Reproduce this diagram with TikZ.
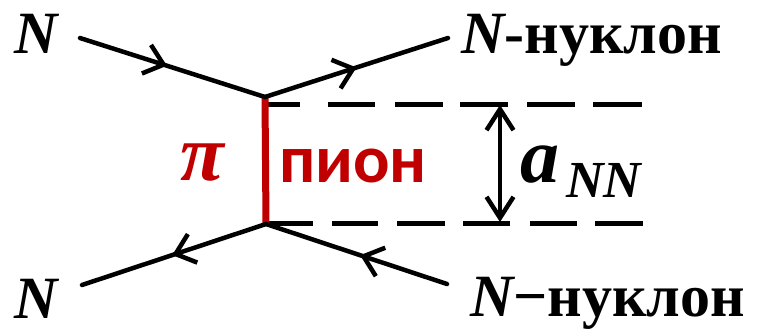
\documentclass[tikz,border=0pt]{standalone}
\usepackage{fontspec}
\newfontfamily\lserif{Liberation Serif}
\newfontfamily\calib{Carlito}
\usetikzlibrary{arrows.meta,decorations.markings}
\definecolor{pired}{HTML}{C00000}
\tikzset{
  fermion/.style={line width=4.5pt, line cap=round,
    postaction={decorate, decoration={markings,
      mark=at position #1 with {\arrow{Straight Barb[length=18pt,width=30pt,line width=4.5pt]}}}}},
  dashline/.style={line width=5pt},
  lbl/.style={inner sep=0pt, anchor=base west, font=\fontsize{60}{60}\selectfont\lserif\bfseries},
}
\begin{document}
\begin{tikzpicture}[x=1pt,y=-1pt]
\useasboundingbox (0,0) rectangle (767,333);
% coordinates
\coordinate (vt) at (265,97);
\coordinate (vb) at (266,224);
\coordinate (tl) at (80,38);
\coordinate (tr) at (448,38);
\coordinate (bl) at (82,285);
\coordinate (br) at (447,284);
% dashed lines
\coordinate (dt1) at (263,104);
\coordinate (dt2) at (642,104);
\coordinate (db1) at (266,223);
\coordinate (db2) at (643,223);
\draw[dashline, dash pattern=on 37pt off 28pt on 47pt off 20pt on 48pt off 17pt on 48pt off 19pt on 48pt off 18pt on 49pt off 30pt] (dt1) -- (dt2);
\draw[dashline, dash pattern=on 47pt off 19pt on 46pt off 19pt on 48pt off 18pt on 47pt off 20pt on 47pt off 18pt on 48pt off 30pt] (db1) -- (db2);
% red pion line
\draw[pired, line width=7pt] (vt) -- (vb);
% fermion lines
\draw[fermion=0.47] (tl) -- (vt);
\draw[fermion=0.50] (vt) -- (tr);
\draw[fermion=0.51] (vb) -- (bl);
\draw[fermion=0.48] (br) -- (vb);
% distance arrow
\coordinate (at) at (500,105);
\coordinate (ab) at (500,222);
\draw[line width=4pt, {Straight Barb[length=21pt,width=27pt,line width=4.5pt]}-{Straight Barb[length=21pt,width=27pt,line width=4.5pt]}] (at) -- (ab);
% labels
\node[lbl] (n1) at (14,53) {\itshape N};
\node[lbl] (n2) at (14,318) {\itshape N};
\node[lbl] (n3) at (461,53) {{\itshape N}-нуклон};
\node[lbl] (n4) at (470,316) {{\itshape N}−нуклон};
\node[inner sep=0pt, anchor=base west, text=pired, font=\fontsize{80}{80}\selectfont\lserif\bfseries\itshape] (pi) at (180,180) {π};
\node[inner sep=0pt, anchor=base west, text=pired, font=\fontsize{68}{68}\selectfont\calib\bfseries] (pion) at (279,182) {пион};
\node[inner sep=0pt, anchor=base west, font=\fontsize{78}{78}\selectfont\lserif\bfseries\itshape] (a) at (520,182) {a};
\node[inner sep=0pt, anchor=base west, font=\fontsize{52}{52}\selectfont\lserif\bfseries\itshape] (nn) at (566,197) {NN};
\end{tikzpicture}
\end{document}
